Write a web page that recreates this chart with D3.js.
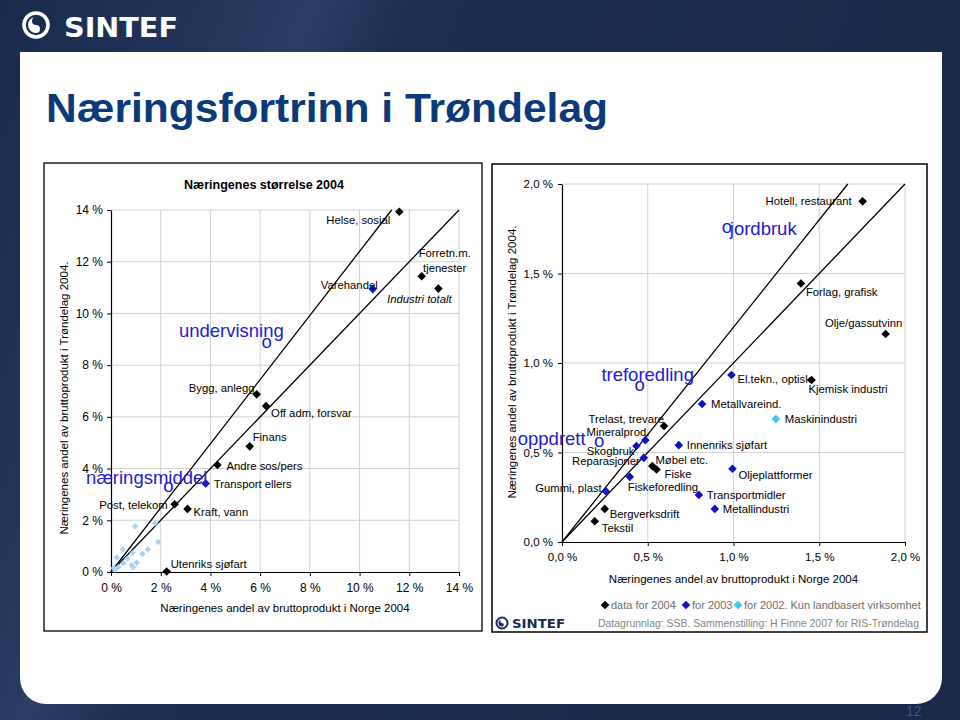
<!DOCTYPE html>
<html><head><meta charset="utf-8">
<script src="https://cdn.jsdelivr.net/npm/d3@7"></script>
<style>
body{margin:0;background:#1b2a4e;}
svg{display:block;font-family:Arial,"Liberation Sans",sans-serif;}
</style>
</head><body>
<svg id="c" width="960" height="720"></svg>
<script>
// ---------- DATA ----------
const slideTitle = "Næringsfortrinn i Trøndelag";
const leftTitle = "Næringenes størrelse 2004";
const yTitle = "Næringenes andel av bruttoprodukt i Trøndelag 2004.";
const xTitle = "Næringenes andel av bruttoprodukt i Norge 2004";

const leftTicks = [0, 2, 4, 6, 8, 10, 12, 14];
const rightTicks = [0, 0.5, 1.0, 1.5, 2.0];

const leftNames = ["Helse, sosial", "Forretn.m.\ntjenester", "Industri totalt", "Varehandel", "Bygg, anlegg",
  "Off adm, forsvar", "Finans", "Andre sos/pers", "Transport ellers", "Post, telekom", "Kraft, vann", "Utenriks sjøfart"];
const leftNorway = [11.6, 12.5, 13.17, 10.53, 5.86, 6.24, 5.58, 4.28, 3.81, 2.56, 3.08, 2.24];
const leftTrond  = [13.93, 11.44, 10.96, 10.94, 6.87, 6.42, 4.86, 4.14, 3.42, 2.62, 2.44, 0.02];
const leftYear   = [2004, 2004, 2004, 2003, 2004, 2004, 2004, 2004, 2003, 2004, 2004, 2004];

// small industries (2002 data, unlabeled) in the left chart
const smallNorway = [0.97, 1.77, 1.90, 1.48, 1.26, 0.47, 0.23, 1.03, 0.66, 0.83, 0.90, 0.50, 0.29, 0.16, 0.87, 0.10];
const smallTrond  = [1.77, 1.88, 1.16, 0.87, 0.70, 0.87, 0.56, 0.37, 0.52, 0.26, 0.19, 0.35, 0.19, 0.09, 0.74, 0.15];

const rightNames = ["Hotell, restaurant", "Forlag, grafisk", "Olje/gassutvinn", "El.tekn., optisk", "Kjemisk industri",
  "Metallvareind.", "Maskinindustri", "Trelast, trevare", "Mineralprod.", "Skogbruk", "Innenriks sjøfart",
  "Reparasjoner", "Møbel etc.", "Fiske", "Oljeplattformer", "Fiskeforedling", "Gummi, plast", "Transportmidler",
  "Metallindustri", "Bergverksdrift", "Tekstil"];
const rightNorway = [1.753, 1.393, 1.887, 0.988, 1.455, 0.817, 1.247, 0.595, 0.486, 0.434, 0.681,
  0.477, 0.527, 0.551, 0.994, 0.395, 0.255, 0.798, 0.891, 0.249, 0.191];
const rightTrond  = [1.903, 1.444, 1.162, 0.933, 0.905, 0.771, 0.687, 0.648, 0.569, 0.536, 0.541,
  0.470, 0.424, 0.405, 0.409, 0.364, 0.284, 0.263, 0.185, 0.185, 0.116];
const rightYear   = [2004, 2004, 2004, 2003, 2004, 2003, 2002, 2004, 2003, 2003, 2003,
  2003, 2004, 2004, 2003, 2003, 2003, 2003, 2003, 2004, 2004];

// reference lines: Trøndelag share = slope * Norway share
const leftSlopes = [1.24, 1.0];
const rightSlopes = [1.2, 1.0];

// highlighted industries ("o" markers with large blue names)
const leftAnnoNames = ["undervisning", "næringsmiddel"];
const leftAnnoX = [6.26, 2.31];
const leftAnnoY = [8.87, 3.29];
const rightAnnoNames = ["jordbruk", "treforedling", "oppdrett"];
const rightAnnoX = [0.961, 0.453, 0.216];
const rightAnnoY = [1.754, 0.871, 0.560];

const legendItems = ["data for 2004", "for 2003", "for 2002. Kun landbasert virksomhet"];
const legendYears = [2004, 2003, 2002];
const sourceNote = "Datagrunnlag: SSB. Sammenstilling: H Finne 2007 for RIS-Trøndelag";
const pageNumber = "12";

// ---------- LAYOUT (label placement, px) ----------
const leftLabelPos = [
  {dx:-9, dy:8, a:"end"}, {dx:23, dy:-23, a:"middle"}, {dx:-19, dy:10, a:"middle", it:true},
  {dx:5, dy:-4, a:"end"}, {dx:-2, dy:-6, a:"end"}, {dx:5, dy:7, a:"start"}, {dx:3, dy:-9, a:"start"},
  {dx:9, dy:1, a:"start"}, {dx:8, dy:0, a:"start"}, {dx:-7, dy:1, a:"end"}, {dx:6, dy:3, a:"start"},
  {dx:4, dy:-7, a:"start"}];
const rightLabelPos = [
  {dx:-11, dy:0, a:"end"}, {dx:5, dy:9, a:"start"}, {dx:-22, dy:-11, a:"middle"}, {dx:6, dy:4, a:"start"},
  {dx:-3, dy:9, a:"start"}, {dx:9, dy:0, a:"start"}, {dx:9, dy:0, a:"start"}, {dx:0, dy:-7, a:"end"},
  {dx:4, dy:-8, a:"end"}, {dx:-2, dy:5, a:"end"}, {dx:8, dy:0, a:"start"}, {dx:-4, dy:3, a:"end"},
  {dx:3, dy:-6, a:"start"}, {dx:8, dy:5, a:"start"}, {dx:6, dy:6, a:"start"}, {dx:-2, dy:10, a:"start"},
  {dx:-4, dy:-3, a:"end"}, {dx:8, dy:0, a:"start"}, {dx:8, dy:0, a:"start"}, {dx:5, dy:5, a:"start"},
  {dx:7, dy:7, a:"start"}];
const leftAnnoPos = [{dx:-87.7, dy:-5.6}, {dx:-82.3, dy:-3.4}];
const rightAnnoPos = [{dx:3, dy:6.7}, {dx:-38.3, dy:-5.3}, {dx:-81.3, dy:3.3}];

const yearColor = {2004:"#000000", 2003:"#1111c4", 2002:"#38c8f0"};
const annoColor = "#2020d4";
const gridColor = "#d2d2d2";

// ---------- DRAW ----------
const svg = d3.select("#c");
const defs = svg.append("defs");
const bg = defs.append("linearGradient").attr("id","bg").attr("x1","0").attr("y1","0").attr("x2","1").attr("y2","0.3");
bg.append("stop").attr("offset","0").attr("stop-color","#1a2a4f");
bg.append("stop").attr("offset","0.2").attr("stop-color","#213459");
bg.append("stop").attr("offset","0.3").attr("stop-color","#2a3e66");
bg.append("stop").attr("offset","0.4").attr("stop-color","#1d2d52");
bg.append("stop").attr("offset","1").attr("stop-color","#1a284b");
svg.append("rect").attr("width",960).attr("height",720).attr("fill","url(#bg)");

// white panel with rounded bottom corners
const px0=20, px1=942, py0=52, py1=704, r=26;
svg.append("path").attr("fill","#ffffff")
  .attr("d",`M${px0},${py0}H${px1}V${py1-r}A${r},${r} 0 0 1 ${px1-r},${py1}H${px0+r}A${r},${r} 0 0 1 ${px0},${py1-r}Z`);

// header logo
const logo = svg.append("g");
logo.append("circle").attr("cx",36).attr("cy",25).attr("r",12).attr("fill","none").attr("stroke","#fff").attr("stroke-width",3.6);
logo.append("path").attr("fill","#fff").attr("d","M36,17 a8,8 0 0,0 0,16 a4,4 0 0,0 0,-8 a4,4 0 0,1 0,-8 Z");
logo.append("text").attr("x",64).attr("y",37).attr("fill","#fff").attr("font-family","'DejaVu Sans',Arial")
  .attr("font-weight","bold").attr("font-size",26).attr("textLength",114).attr("lengthAdjust","spacingAndGlyphs").text("SINTEF");

// slide title
svg.append("text").attr("x",46).attr("y",122).attr("fill","#0b3a78").attr("font-weight","bold")
  .attr("font-size",41).attr("textLength",562).attr("lengthAdjust","spacingAndGlyphs").text(slideTitle);

// page number
svg.append("text").attr("x",906).attr("y",716).attr("fill","#3556a2").attr("font-size",14).text(pageNumber);

// chart frames
svg.append("rect").attr("x",44).attr("y",163).attr("width",438).attr("height",468)
  .attr("fill","#fff").attr("stroke","#000").attr("stroke-width",1.3);
svg.append("rect").attr("x",492).attr("y",164).attr("width",435).attr("height",468)
  .attr("fill","#fff").attr("stroke","#000").attr("stroke-width",1.5);

function diamond(s){ return `M0,${-s}L${s},0L0,${s}L${-s},0Z`; }

function drawChart(cfg){
  const g = svg.append("g");
  const x = cfg.x, y = cfg.y;
  // grid
  g.selectAll(".gx").data(cfg.ticks.slice(1)).join("line")
    .attr("x1",d=>x(d)).attr("x2",d=>x(d)).attr("y1",y.range()[0]).attr("y2",y.range()[1])
    .attr("stroke",gridColor).attr("stroke-width",1);
  g.selectAll(".gy").data(cfg.ticks.slice(1)).join("line")
    .attr("y1",d=>y(d)).attr("y2",d=>y(d)).attr("x1",x.range()[0]).attr("x2",x.range()[1])
    .attr("stroke",gridColor).attr("stroke-width",1);
  // axes
  const ax = g.append("g").attr("transform",`translate(0,${y.range()[0]})`)
    .call(d3.axisBottom(x).tickValues(cfg.ticks).tickSize(4).tickSizeOuter(0).tickPadding(cfg.xPad).tickFormat(cfg.fmt));
  const ay = g.append("g").attr("transform",`translate(${x.range()[0]},0)`)
    .call(d3.axisLeft(y).tickValues(cfg.ticks).tickSize(4).tickSizeOuter(0).tickPadding(cfg.yPad).tickFormat(cfg.fmt));
  [ax,ay].forEach(a=>{
    a.selectAll("text").attr("font-size",cfg.tickFont).attr("font-family","Arial,'Liberation Sans',sans-serif").attr("fill","#000");
    a.select(".domain").attr("stroke","#000").attr("stroke-width",1.2);
    a.selectAll(".tick line").attr("stroke","#000");
  });
  // reference lines
  const xmax = cfg.ticks[cfg.ticks.length-1];
  cfg.slopes.forEach(s=>{
    const xe = Math.min(xmax, xmax/s);
    g.append("line").attr("x1",x(0)).attr("y1",y(0)).attr("x2",x(xe)).attr("y2",y(xe*s))
      .attr("stroke","#000").attr("stroke-width",1.3);
  });
  // axis titles
  g.append("text").attr("x",(x.range()[0]+x.range()[1])/2).attr("y",cfg.xTitleY).attr("text-anchor","middle")
    .attr("font-size",11.5).text(xTitle);
  g.append("text").attr("transform",`translate(${cfg.yTitleX},${cfg.yTitleC}) rotate(-90)`).attr("text-anchor","middle")
    .attr("font-size",11.5).text(yTitle);
  return g;
}

function drawPoints(g, x, y, names, nx, ty, years, pos){
  names.forEach((n,i)=>{
    const cx = x(nx[i]), cy = y(ty[i]);
    g.append("path").attr("d",diamond(4.3)).attr("transform",`translate(${cx},${cy})`).attr("fill",yearColor[years[i]]);
    const p = pos[i];
    const lines = n.split("\n");
    const t = g.append("text").attr("text-anchor",p.a).attr("font-size",11.3).attr("fill","#000")
      .attr("font-style",p.it?"italic":"normal");
    lines.forEach((ln,k)=>{
      t.append("tspan").attr("x",cx+p.dx).attr("y",cy+p.dy+k*15).attr("dy","0.35em").text(ln);
    });
  });
}

function drawAnno(g, x, y, names, ax, ay, pos){
  names.forEach((n,i)=>{
    const cx = x(ax[i]), cy = y(ay[i]);
    g.append("text").attr("x",cx).attr("y",cy).attr("dy","0.28em").attr("text-anchor","middle")
      .attr("font-size",18.5).attr("fill",annoColor).text("o");
    g.append("text").attr("x",cx+pos[i].dx).attr("y",cy+pos[i].dy).attr("font-size",18.5)
      .attr("fill",annoColor).text(n);
  });
}

// left chart
const xL = d3.scaleLinear().domain([0,14]).range([111,459]);
const yL = d3.scaleLinear().domain([0,14]).range([572,210]);
const gL = drawChart({x:xL, y:yL, ticks:leftTicks, fmt:d=>d+" %", xPad:7, yPad:4, slopes:leftSlopes,
  xTitleY:612, yTitleX:68, yTitleC:398, tickFont:12});
svg.append("text").attr("x",264).attr("y",189).attr("text-anchor","middle").attr("font-size",12.5)
  .attr("font-weight","bold").text(leftTitle);
smallNorway.forEach((v,i)=>{
  gL.append("path").attr("d",diamond(3.2)).attr("transform",`translate(${xL(v)},${yL(smallTrond[i])})`)
    .attr("fill","#a9d2f2");
});
drawPoints(gL, xL, yL, leftNames, leftNorway, leftTrond, leftYear, leftLabelPos);
drawAnno(gL, xL, yL, leftAnnoNames, leftAnnoX, leftAnnoY, leftAnnoPos);

// right chart
const xR = d3.scaleLinear().domain([0,2]).range([562,905]);
const yR = d3.scaleLinear().domain([0,2]).range([542,184]);
const fmtR = d=>d.toFixed(1).replace(".",",")+" %";
const gR = drawChart({x:xR, y:yR, ticks:rightTicks, fmt:fmtR, xPad:7, yPad:5, slopes:rightSlopes,
  xTitleY:583, yTitleX:516, yTitleC:362, tickFont:11.5});
drawPoints(gR, xR, yR, rightNames, rightNorway, rightTrond, rightYear, rightLabelPos);
drawAnno(gR, xR, yR, rightAnnoNames, rightAnnoX, rightAnnoY, rightAnnoPos);

// legend / source
const lg = svg.append("g");
const legX = [605, 686, 738];
legendItems.forEach((t,i)=>{
  lg.append("path").attr("d",diamond(4.3)).attr("transform",`translate(${legX[i]},${605})`).attr("fill",yearColor[legendYears[i]]);
  lg.append("text").attr("x",legX[i]+6).attr("y",605).attr("dy","0.35em").attr("font-size",11).attr("fill","#6e6e6e").text(t);
});
lg.append("text").attr("x",598).attr("y",623).attr("dy","0.35em").attr("font-size",11).attr("fill","#858585")
  .attr("textLength",321).attr("lengthAdjust","spacingAndGlyphs").text(sourceNote);

// small logo
const sl = svg.append("g");
sl.append("circle").attr("cx",502).attr("cy",623).attr("r",5.5).attr("fill","none").attr("stroke","#1b2a50").attr("stroke-width",2);
sl.append("path").attr("fill","#1b2a50").attr("d","M502,619.5 a3.5,3.5 0 0,0 0,7 a1.75,1.75 0 0,0 0,-3.5 a1.75,1.75 0 0,1 0,-3.5 Z");
sl.append("text").attr("x",512).attr("y",628).attr("font-family","'DejaVu Sans',Arial").attr("font-weight","bold")
  .attr("font-size",13).attr("textLength",53).attr("lengthAdjust","spacingAndGlyphs").attr("fill","#1b2a50").text("SINTEF");
</script>
</body></html>
